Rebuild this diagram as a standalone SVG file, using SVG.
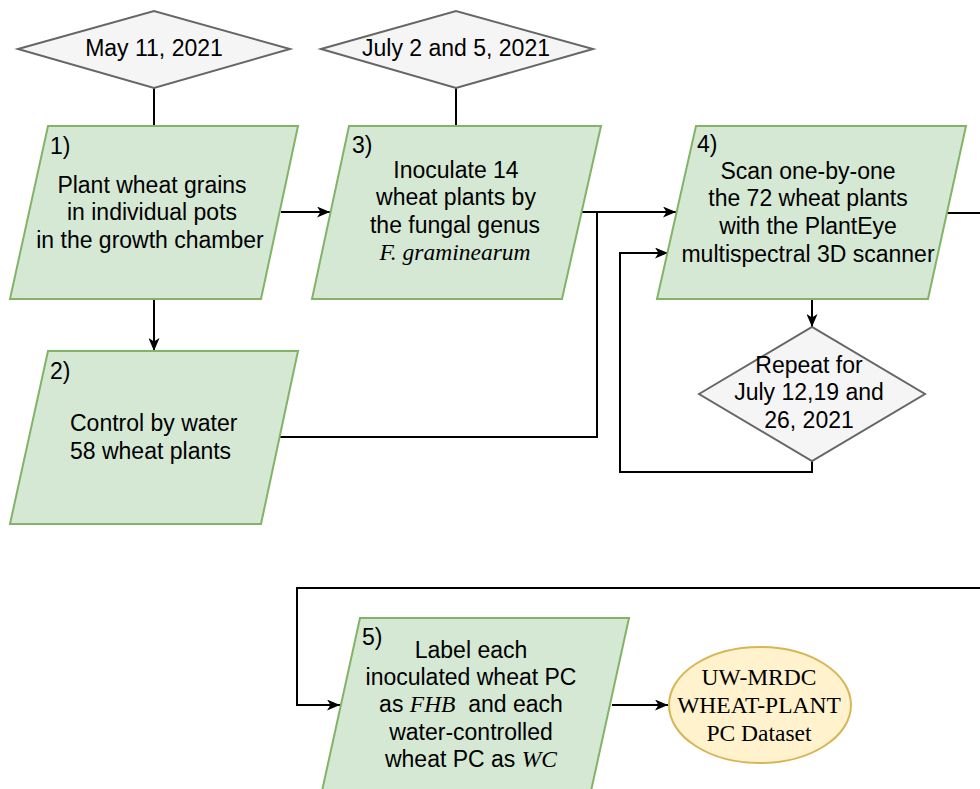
<svg xmlns="http://www.w3.org/2000/svg" width="980" height="789" viewBox="0 0 980 789">
<defs>
<style>
.proc{fill:#d5e8d4;stroke:#82b366;stroke-width:2}
.dec{fill:#f5f5f5;stroke:#666666;stroke-width:2}
.term{fill:#fff2cc;stroke:#d6b656;stroke-width:2}
.t{font-family:"Liberation Sans",Arial,sans-serif;font-size:23px;fill:#000}
.c{text-anchor:middle}
.s{font-family:"Liberation Serif","Times New Roman",serif;font-size:23.5px;fill:#000}
.i{font-family:"Liberation Serif","Times New Roman",serif;font-style:italic;font-size:23.5px}
.e{fill:none;stroke:#000;stroke-width:2}
</style>
<marker id="arr" viewBox="0 0 13 11" refX="13" refY="5.5" markerWidth="13" markerHeight="11" markerUnits="userSpaceOnUse" orient="auto">
<path d="M0,0 L13,5.5 L0,11 L3.5,5.5 Z" fill="#000"/>
</marker>
</defs>
<rect width="980" height="789" fill="#fff"/>
<g id="connectors">
<path class="e" d="M154,88 V126"/>
<path class="e" d="M456,88 V126"/>
<path class="e" d="M154,299 V351" marker-end="url(#arr)"/>
<path class="e" d="M281,212 H330" marker-end="url(#arr)"/>
<path class="e" d="M582,212 H676" marker-end="url(#arr)"/>
<path class="e" d="M280,437 H597 V212"/>
<path class="e" d="M812,299 V327" marker-end="url(#arr)"/>
<path class="e" d="M812,461 V472 H620 V253 H668" marker-end="url(#arr)"/>
<path class="e" d="M945,213 H980"/>
<path class="e" d="M980,588 H297 V705 H340" marker-end="url(#arr)"/>
<path class="e" d="M612,705 H668" marker-end="url(#arr)"/>
</g>
<g id="d1">
<polygon class="dec" points="18,49 154,11 290,49 154,88"/>
<text class="t c" x="154" y="56">May 11, 2021</text>
</g>
<g id="d2">
<polygon class="dec" points="321,49 456,11 593,49 456,88"/>
<text class="t c" x="456" y="56">July 2 and 5, 2021</text>
</g>
<g id="n1">
<polygon class="proc" points="48,126 298,126 261,299 10,299"/>
<text class="t" x="50" y="154">1)</text>
<text class="t c" x="152" y="193">Plant wheat grains</text>
<text class="t c" x="152" y="220">in individual pots</text>
<text class="t c" x="150" y="248">in the growth chamber</text>
</g>
<g id="n2">
<polygon class="proc" points="48,351 298,351 261,524 10,524"/>
<text class="t" x="50" y="379">2)</text>
<text class="t" x="70" y="431">Control by water</text>
<text class="t" x="70" y="459">58 wheat plants</text>
</g>
<g id="n3">
<polygon class="proc" points="349,126 601,126 562,299 312,299"/>
<text class="t" x="352" y="153">3)</text>
<text class="t c" x="456" y="178">Inoculate 14</text>
<text class="t c" x="456" y="205">wheat plants by</text>
<text class="t c" x="455" y="233">the fungal genus</text>
<text class="i c" x="455" y="260">F. graminearum</text>
</g>
<g id="n4">
<polygon class="proc" points="696,126 966,126 928,299 657,299"/>
<text class="t" x="697" y="152">4)</text>
<text class="t c" x="808" y="179">Scan one-by-one</text>
<text class="t c" x="808" y="206">the 72 wheat plants</text>
<text class="t c" x="808" y="234">with the PlantEye</text>
<text class="t c" x="808" y="262">multispectral 3D scanner</text>
</g>
<g id="r">
<polygon class="dec" points="699,394 812,327 925,394 812,461"/>
<text class="t c" x="809" y="373">Repeat for</text>
<text class="t c" x="809" y="400">July 12,19 and</text>
<text class="t c" x="809" y="428">26, 2021</text>
</g>
<g id="n5">
<polygon class="proc" points="360,618 629,618 591,791 322,791"/>
<text class="t" x="362" y="645">5)</text>
<text class="t c" x="471" y="658">Label each</text>
<text class="t c" x="471" y="685">inoculated wheat PC</text>
<text class="t c" x="471" y="712" xml:space="preserve">as <tspan class="i">FHB</tspan>  and each</text>
<text class="t c" x="471" y="740">water-controlled</text>
<text class="t c" x="471" y="767">wheat PC as <tspan class="i">WC</tspan></text>
</g>
<g id="out">
<ellipse class="term" cx="760" cy="705" rx="91" ry="58"/>
<text class="s c" x="759" y="685">UW-MRDC</text>
<text class="s c" x="759" y="713">WHEAT-PLANT</text>
<text class="s c" x="759" y="741">PC Dataset</text>
</g>
</svg>
